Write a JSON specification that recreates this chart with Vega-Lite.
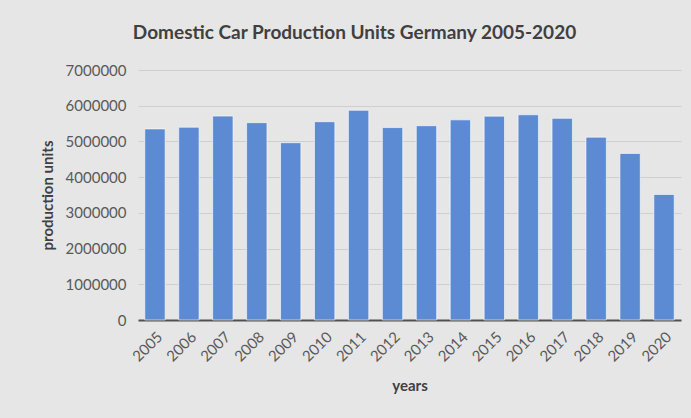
{
  "$schema": "https://vega.github.io/schema/vega-lite/v6.json",
  "width": 543,
  "height": 250,
  "autosize": {"type": "none"},
  "padding": {"left": 138, "top": 70, "right": 10, "bottom": 98},
  "background": "#e6e6e6",
  "title": {
    "text": "Domestic Car Production Units Germany 2005-2020",
    "font": "Lato",
    "fontSize": 19,
    "fontWeight": "bold",
    "color": "#404040",
    "anchor": "middle",
    "dx": -55,
    "offset": 20
  },
  "data": {
    "values": [
      {"year": "2005", "units": 5350000},
      {"year": "2006", "units": 5398000},
      {"year": "2007", "units": 5709000},
      {"year": "2008", "units": 5526000},
      {"year": "2009", "units": 4964000},
      {"year": "2010", "units": 5552000},
      {"year": "2011", "units": 5872000},
      {"year": "2012", "units": 5388000},
      {"year": "2013", "units": 5440000},
      {"year": "2014", "units": 5604000},
      {"year": "2015", "units": 5708000},
      {"year": "2016", "units": 5747000},
      {"year": "2017", "units": 5646000},
      {"year": "2018", "units": 5120000},
      {"year": "2019", "units": 4664000},
      {"year": "2020", "units": 3515000}
    ]
  },
  "mark": {"type": "bar", "color": "#5d8bd3", "stroke": "#ffffff", "strokeWidth": 1, "strokeOpacity": 0.6},
  "encoding": {
    "x": {
      "field": "year",
      "type": "ordinal",
      "scale": {"paddingInner": 0.4, "paddingOuter": 0.2},
      "axis": {
        "title": "years",
        "labelAngle": -45,
        "labelFont": "Lato",
        "labelFontSize": 15,
        "labelColor": "#595959",
        "titleFont": "Lato",
        "titleFontSize": 15,
        "titleFontWeight": "bold",
        "titleColor": "#404040",
        "titlePadding": 14,
        "ticks": false,
        "labelPadding": 9,
        "domainColor": "#505050",
        "domainWidth": 2
      }
    },
    "y": {
      "field": "units",
      "type": "quantitative",
      "scale": {"domain": [0, 7000000]},
      "axis": {
        "title": "production units",
        "values": [0, 1000000, 2000000, 3000000, 4000000, 5000000, 6000000, 7000000],
        "format": "d",
        "labelFont": "Lato",
        "labelFontSize": 15,
        "labelColor": "#595959",
        "labelPadding": 12,
        "titleFont": "Lato",
        "titleFontSize": 15,
        "titleFontWeight": "bold",
        "titleColor": "#404040",
        "titlePadding": 10,
        "ticks": false,
        "domain": false,
        "gridColor": "#cfcfcf",
        "gridWidth": 1.2
      }
    }
  },
  "config": {"view": {"stroke": null}}
}
